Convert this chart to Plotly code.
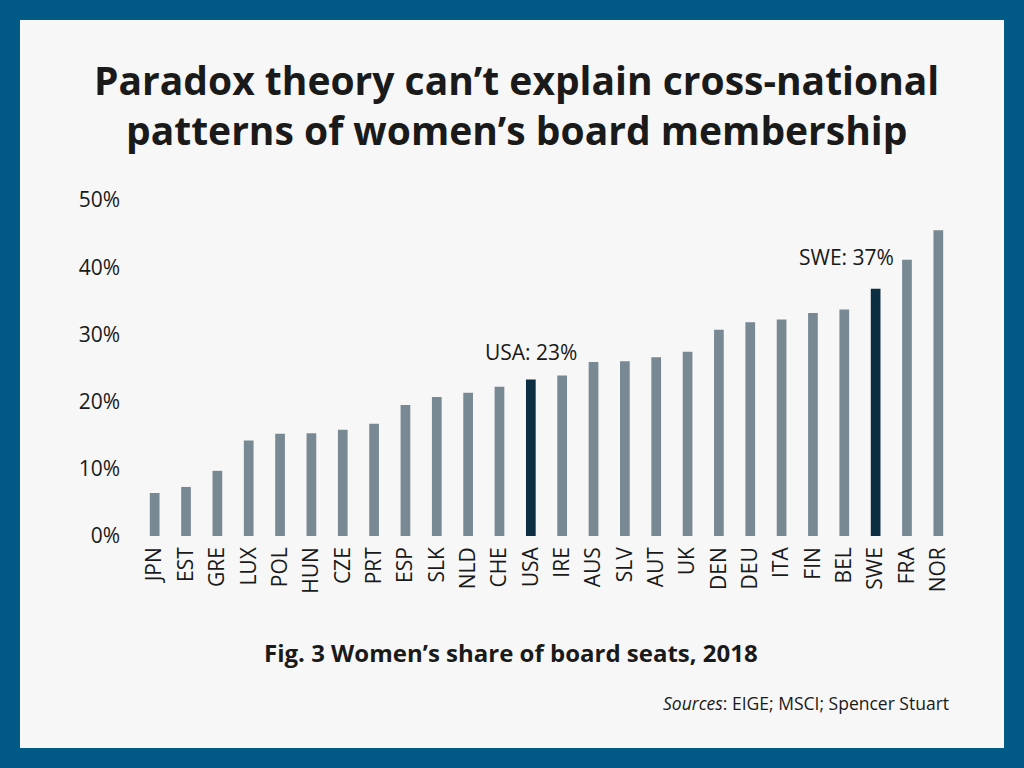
import plotly.graph_objects as go

countries = ["JPN", "EST", "GRE", "LUX", "POL", "HUN", "CZE", "PRT", "ESP", "SLK",
             "NLD", "CHE", "USA", "IRE", "AUS", "SLV", "AUT", "UK", "DEN", "DEU",
             "ITA", "FIN", "BEL", "SWE", "FRA", "NOR"]
shares = [6.4, 7.3, 9.7, 14.2, 15.2, 15.3, 15.8, 16.7, 19.5, 20.7,
          21.3, 22.2, 23.3, 23.9, 25.9, 26.0, 26.6, 27.4, 30.7, 31.8,
          32.2, 33.2, 33.7, 36.8, 41.1, 45.5]
highlight = ["USA", "SWE"]
callouts = {"USA": "USA: 23%", "SWE": "SWE: 37%"}
y_ticks = [0, 10, 20, 30, 40, 50]
y_tick_labels = ["0%", "10%", "20%", "30%", "40%", "50%"]

W, H = 1024, 768
L, R, T, B = 139, 954, 200, 536  # plot area in pixels

def px(x):
    return (x - L) / (R - L)

def py(y):
    return (B - y) / (B - T)

FONT = "Open Sans"
TXT = "#1a1a1a"
GRAY = "#788994"
DARK = "#0B2E43"
BG = "#F7F7F7"
BORDER = "#005A85"

colors = [DARK if c in highlight else GRAY for c in countries]

fig = go.Figure(go.Bar(x=countries, y=shares, marker=dict(color=colors, line=dict(width=0)),
                       width=0.31, hoverinfo="skip"))

annotations = []
for text, yy in [("Paradox theory can’t explain cross-national", 80),
                 ("patterns of women’s board membership", 129)]:
    annotations.append(dict(text="<b>" + text + "</b>", x=px(516), y=py(yy), xref="paper", yref="paper",
                            showarrow=False, xanchor="center", yanchor="middle",
                            font=dict(family=FONT, size=39, color=TXT)))

# callouts
i = countries.index("USA")
annotations.append(dict(x="USA", y=shares[i], xref="x", yref="y", text=callouts["USA"], showarrow=False,
                        xanchor="center", yanchor="bottom", yshift=11,
                        font=dict(family=FONT, size=21, color=TXT)))
i = countries.index("SWE")
annotations.append(dict(x="SWE", y=shares[i], xref="x", yref="y", text=callouts["SWE"], showarrow=False,
                        xanchor="right", yanchor="bottom", xshift=20, yshift=16,
                        font=dict(family=FONT, size=21, color=TXT)))

annotations.append(dict(text="<b>Fig. 3 Women’s share of board seats, 2018</b>", x=px(511), y=py(652),
                        xref="paper", yref="paper", showarrow=False, xanchor="center", yanchor="middle",
                        font=dict(family=FONT, size=24, color=TXT)))
annotations.append(dict(text="<i>Sources</i>: EIGE; MSCI; Spencer Stuart", x=px(951), y=py(703),
                        xref="paper", yref="paper", showarrow=False, xanchor="right", yanchor="middle",
                        font=dict(family=FONT, size=17.5, color=TXT)))

shapes = [dict(type="rect", xref="paper", yref="paper", x0=px(20), x1=px(1004), y0=py(748), y1=py(20),
               fillcolor=BG, line=dict(width=0), layer="below")]

fig.update_layout(
    width=W, height=H,
    margin=dict(l=L, r=W - R, t=T, b=H - B, pad=0),
    paper_bgcolor=BORDER,
    plot_bgcolor="rgba(0,0,0,0)",
    showlegend=False,
    annotations=annotations,
    shapes=shapes,
    xaxis=dict(tickangle=-90, showgrid=False, showline=False, zeroline=False, ticks="",
               tickfont=dict(family=FONT, size=21, color=TXT), ticklabelstandoff=6),
    yaxis=dict(range=[0, 50], tickvals=y_ticks, ticktext=y_tick_labels, showgrid=False,
               showline=False, zeroline=False, ticks="", ticklabelstandoff=18,
               tickfont=dict(family=FONT, size=21, color=TXT)),
)

fig.write_html("out.html", config={"displayModeBar": False},
               post_script="document.body.style.margin='0';document.body.style.background='#005A85';")
